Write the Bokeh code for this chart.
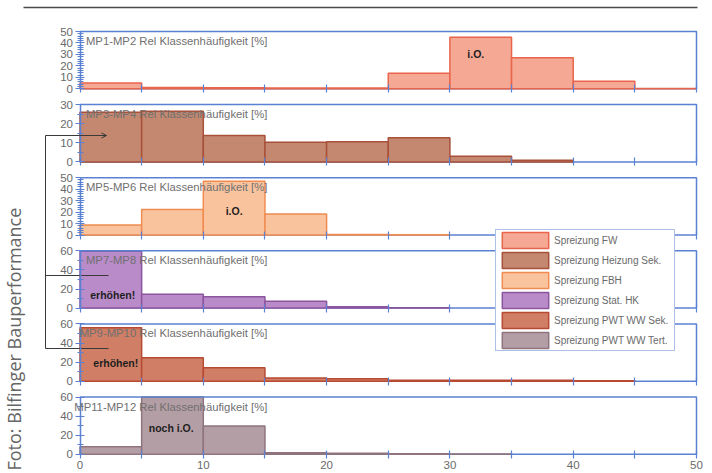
import math
from bokeh.plotting import figure
from bokeh.models import (Range1d, LinearAxis, FixedTicker, Label, Legend, LegendItem,
                          Arrow, OpenHead)
from bokeh.embed import file_html
from bokeh.resources import INLINE

# ---------------- data ----------------
bin_starts = [0, 5, 10, 15, 20, 25, 30, 35, 40, 45]
bin_width = 5

series_names = ["Spreizung FW", "Spreizung Heizung Sek.", "Spreizung FBH",
                "Spreizung Stat. HK", "Spreizung PWT WW Sek.", "Spreizung PWT WW Tert."]
panel_titles = ["MP1-MP2 Rel Klassenhäufigkeit [%]", "MP3-MP4 Rel Klassenhäufigkeit [%]",
                "MP5-MP6 Rel Klassenhäufigkeit [%]", "MP7-MP8 Rel Klassenhäufigkeit [%]",
                "MP9-MP10 Rel Klassenhäufigkeit [%]", "MP11-MP12 Rel Klassenhäufigkeit [%]"]

fw = [5, 1.2, 1.0, 0.8, 0.6, 13.6, 45, 27, 6.5, 0.3]
heizung_sek = [26, 26.5, 13.8, 10.3, 10.6, 12.7, 3, 0.8]
fbh = [8.7, 22.3, 47, 18.3, 0.5, 0.3]
stat_hk = [59.5, 14.4, 11.8, 7.2, 1.5, 0.3]
pwt_ww_sek = [56, 24.5, 14.2, 3.4, 2.5, 1, 1, 1, 0.4]
pwt_ww_tert = [8, 60, 29.6, 1.5, 1, 0.5, 0.4]
series_values = [fw, heizung_sek, fbh, stat_hk, pwt_ww_sek, pwt_ww_tert]

y_max = [50, 30, 50, 60, 60, 60]
ticks_50 = [0, 10, 20, 30, 40, 50]
minor_50 = [2, 4, 6, 8, 12, 14, 16, 18, 22, 24, 26, 28, 32, 34, 36, 38, 42, 44, 46, 48]
ticks_30 = [0, 10, 20, 30]
minor_30 = [5, 15, 25]
ticks_60 = [0, 20, 40, 60]
minor_60 = [10, 30, 50]
y_major = [ticks_50, ticks_30, ticks_50, ticks_60, ticks_60, ticks_60]
y_minor = [minor_50, minor_30, minor_50, minor_60, minor_60, minor_60]
x_major = [0, 10, 20, 30, 40, 50]
x_minor = [5, 15, 25, 35, 45]

# notes: (panel, text, x, y)
notes = [(0, "i.O.", 32.1, 30.7), (2, "i.O.", 12.5, 21), (3, "erhöhen!", 2.65, 13.7),
         (4, "erhöhen!", 2.9, 19), (5, "noch i.O.", 7.4, 27.4)]

fills = ["#f5a894", "#c3886f", "#f9c39e", "#b98bc8", "#d07e65", "#b49ea5"]
edges = ["#e8644c", "#a9503a", "#f08c50", "#8e559f", "#b84a33", "#8f7480"]
BLUE = "#5b82d2"
GRAY = "#6a6a6a"

# ---------------- layout ----------------
W, H = 710, 472
FX0, FX50 = 79.5, 696.0          # canvas x of value 0 and 50
sc = (FX50 - FX0) / 50.0
X0 = -FX0 / sc
X1 = 50 + (W - FX50) / sc
panel_top0, panel_step, panel_h = 31.0, 73.1, 57.3

p = figure(width=W, height=H, x_range=Range1d(X0, X1), y_range=Range1d(H, 0),
           x_axis_location=None, y_axis_location=None, toolbar_location=None,
           output_backend="svg", min_border=0)
p.xgrid.visible = False
p.ygrid.visible = False
p.outline_line_color = None
p.background_fill_color = "white"
p.border_fill_color = "white"
p.extra_x_ranges = {"px": Range1d(0, W)}

legend_items = []
for i in range(6):
    M = y_max[i]
    top = panel_top0 + i * panel_step
    bot = top + panel_h
    start = -(H - bot) * M / panel_h
    end = start + M * H / panel_h
    rn = f"p{i}"
    p.extra_y_ranges[rn] = Range1d(start, end)

    # baseline
    p.segment(x0=[0], y0=[0], x1=[50], y1=[0], y_range_name=rn, line_color=BLUE, line_width=1.5)

    vals = series_values[i]
    lefts = bin_starts[:len(vals)]
    rights = [b + bin_width for b in lefts]
    r = p.quad(left=lefts, right=rights, bottom=[0] * len(vals), top=vals, y_range_name=rn,
               fill_color=fills[i], fill_alpha=1.0, line_color=edges[i], line_width=1.5)
    legend_items.append(LegendItem(label=series_names[i], renderers=[r]))

    # top & right border
    p.multi_line(xs=[[0, 50, 50]], ys=[[M, M, 0]], y_range_name=rn, line_color=BLUE, line_width=1.5)

    # y axis
    ya = LinearAxis(y_range_name=rn, fixed_location=0, bounds=(0, M),
                    ticker=FixedTicker(ticks=y_major[i], minor_ticks=y_minor[i]))
    ya.axis_line_color = BLUE
    ya.axis_line_width = 1.5
    ya.major_tick_line_color = BLUE
    ya.minor_tick_line_color = BLUE
    ya.major_tick_line_width = 1.2
    ya.minor_tick_line_width = 1.2
    ya.major_tick_in = 4
    ya.major_tick_out = 5
    ya.minor_tick_in = 3
    ya.minor_tick_out = 3
    ya.major_label_standoff = 2
    ya.major_label_text_font = "Liberation Sans"
    ya.major_label_text_font_size = "11.5px"
    ya.major_label_text_color = GRAY
    p.add_layout(ya, "left")

    # x axis
    last = (i == 5)
    xa = LinearAxis(y_range_name=rn, fixed_location=0, bounds=(0, 50),
                    ticker=FixedTicker(ticks=x_major if last else [],
                                       minor_ticks=x_minor if last else sorted(x_major + x_minor)))
    xa.axis_line_color = None
    xa.major_tick_line_color = BLUE
    xa.minor_tick_line_color = BLUE
    xa.major_tick_line_width = 1.2
    xa.minor_tick_line_width = 1.2
    xa.major_tick_in = 4
    xa.major_tick_out = 4
    xa.minor_tick_in = 4
    xa.minor_tick_out = 4
    xa.major_label_standoff = 3
    xa.major_label_text_font = "Liberation Sans"
    xa.major_label_text_font_size = "11.5px"
    xa.major_label_text_color = GRAY
    p.add_layout(xa, "below")

    # panel title
    p.add_layout(Label(x=15.2, y=M * (1 - 9.5 / panel_h), y_range_name=rn, text=panel_titles[i],
                       text_align="right", text_baseline="middle", text_font="Liberation Sans",
                       text_font_size="11.3px", text_color="#707070"))

for (pi, txt, nx, ny) in notes:
    p.add_layout(Label(x=nx, y=ny, y_range_name=f"p{pi}", text=txt, text_align="center",
                       text_baseline="middle", text_font="Liberation Sans",
                       text_font_size="10.5px", text_font_style="bold", text_color="#1e1e1e"))

# bracket (decoration, pixel coords)
p.multi_line(xs=[[45, 45], [45, 108], [45, 108]], ys=[[135, 348], [275, 275], [348, 348]],
             x_range_name="px", line_color="#3a3a3a", line_width=1)
p.add_layout(Arrow(x_start=45, y_start=135, x_end=106, y_end=135, x_range_name="px",
                   line_color="#3a3a3a", line_width=1,
                   end=OpenHead(size=5, line_color="#3a3a3a", line_width=1)))

# top rule
p.segment(x0=[23], y0=[7], x1=[697], y1=[7], x_range_name="px", line_color="#4a4a4a", line_width=1.5)

# photo credit
p.add_layout(Label(x=13.5, y=470, x_range_name="px", text="Foto: Bilfinger Bauperformance",
                   angle=math.pi / 2, text_align="left", text_baseline="alphabetic",
                   text_font="Open Sans", text_font_size="18px", text_color="#666666"))

legend = Legend(items=legend_items, location=(495, H - 351), orientation="vertical",
                glyph_width=58, glyph_height=20, label_height=20, spacing=0, padding=0,
                margin=0, label_standoff=0, label_width=120, label_text_font="Liberation Sans",
                label_text_font_size="10px", label_text_color=GRAY,
                border_line_color=BLUE, border_line_width=1.5,
                background_fill_color="white", background_fill_alpha=1.0)
p.add_layout(legend)

open("out.html", "w").write(file_html(p, INLINE))
